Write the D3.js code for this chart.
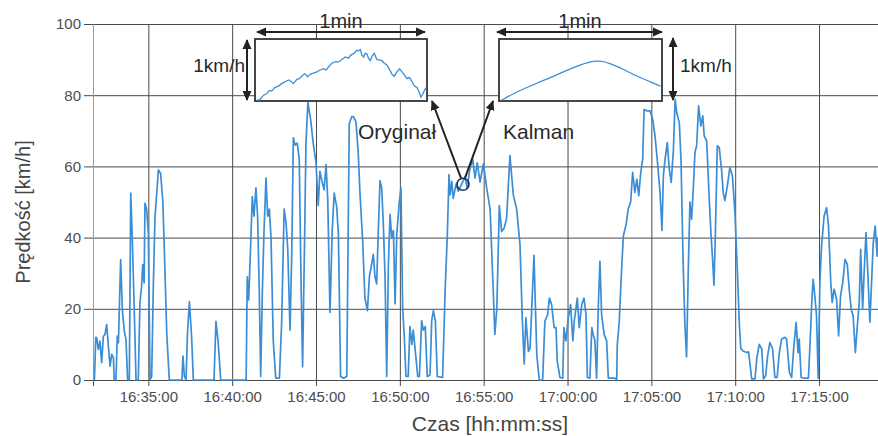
<!DOCTYPE html>
<html>
<head>
<meta charset="utf-8">
<script src="https://cdnjs.cloudflare.com/ajax/libs/d3/7.8.5/d3.min.js"></script>
<style>
body { margin: 0; background: #fff; }
svg { font-family: "Liberation Sans", Arial, sans-serif; }
</style>
</head>
<body>
<svg id="chart" width="878" height="436"></svg>
<script>
// speed log
var timeLabels = [
	"16:31:47","16:31:52","16:31:55","16:32:01","16:32:07","16:32:13","16:32:19","16:32:25","16:32:31","16:32:37",
	"16:32:43","16:32:49","16:32:55","16:32:58","16:33:04","16:33:09","16:33:13","16:33:21","16:33:27","16:33:34",
	"16:33:40","16:33:46","16:33:52","16:33:57","16:34:02","16:34:09","16:34:16","16:34:24","16:34:30","16:34:36",
	"16:34:40","16:34:45","16:34:48","16:34:54","16:35:00","16:35:06","16:35:12","16:35:18","16:35:24","16:35:36",
	"16:35:44","16:35:52","16:35:56","16:36:06","16:36:15","16:37:00","16:37:04","16:37:09","16:37:15","16:37:20",
	"16:37:27","16:37:35","16:37:41","16:38:55","16:39:02","16:39:10","16:39:19","16:40:50","16:40:54","16:40:59",
	"16:41:06","16:41:12","16:41:18","16:41:25","16:41:31","16:41:37","16:41:42","16:41:48","16:41:54","16:42:01",
	"16:42:07","16:42:13","16:42:19","16:42:27","16:42:36","16:42:49","16:42:57","16:43:06","16:43:13","16:43:19",
	"16:43:27","16:43:33","16:43:39","16:43:45","16:43:53","16:44:00","16:44:07","16:44:12","16:44:20","16:44:24",
	"16:44:31","16:44:41","16:44:50","16:45:00","16:45:08","16:45:14","16:45:21","16:45:29","16:45:36","16:45:42",
	"16:45:50","16:45:58","16:46:05","16:46:14","16:46:20","16:46:28","16:46:38","16:46:50","16:46:59","16:47:08",
	"16:47:14","16:47:23","16:47:31","16:47:37","16:47:47","16:47:55","16:48:04","16:48:11","16:48:19","16:48:25",
	"16:48:31","16:48:37","16:48:43","16:48:49","16:48:55","16:49:01","16:49:07","16:49:13","16:49:19","16:49:25",
	"16:49:31","16:49:37","16:49:43","16:49:49","16:49:58","16:50:04","16:50:10","16:50:16","16:50:22","16:50:30",
	"16:50:36","16:50:43","16:50:48","16:50:55","16:51:04","16:51:10","16:51:18","16:51:24","16:51:31","16:51:38",
	"16:51:48","16:51:54","16:52:00","16:52:07","16:52:14","16:52:33","16:52:42","16:52:50","16:52:56","16:53:00",
	"16:53:06","16:53:11","16:53:21","16:53:29","16:53:41","16:53:53","16:54:01","16:54:11","16:54:21","16:54:29",
	"16:54:37","16:54:47","16:54:59","16:55:11","16:55:23","16:55:32","16:55:40","16:55:47","16:55:56","16:56:04",
	"16:56:13","16:56:22","16:56:34","16:56:46","16:56:58","16:57:10","16:57:18","16:57:25","16:57:31","16:57:40",
	"16:57:46","16:58:00","16:58:10","16:58:19","16:58:31","16:58:39","16:58:49","16:58:55","16:59:03","16:59:12",
	"16:59:19","16:59:23","16:59:33","16:59:43","16:59:47","16:59:54","17:00:03","17:00:11","17:00:19","17:00:24",
	"17:00:35","17:00:42","17:00:51","17:00:59","17:01:06","17:01:11","17:01:20","17:01:27","17:01:32","17:01:38",
	"17:01:44","17:01:50","17:01:56","17:02:02","17:02:11","17:02:20","17:02:26","17:02:50","17:02:56","17:02:58",
	"17:03:05","17:03:14","17:03:20","17:03:29","17:03:37","17:03:46","17:03:53","17:04:01","17:04:08","17:04:15",
	"17:04:22","17:04:29","17:04:34","17:04:43","17:04:55","17:05:05","17:05:13","17:05:21","17:05:31","17:05:38",
	"17:05:43","17:05:49","17:05:57","17:06:04","17:06:11","17:06:19","17:06:25","17:06:31","17:06:40","17:06:46",
	"17:06:54","17:07:00","17:07:06","17:07:12","17:07:18","17:07:24","17:07:30","17:07:36","17:07:42","17:07:49",
	"17:07:57","17:08:04","17:08:09","17:08:18","17:08:26","17:08:33","17:08:39","17:08:44","17:08:49","17:08:56",
	"17:09:03","17:09:12","17:09:17","17:09:23","17:09:32","17:09:41","17:09:50","17:09:59","17:10:07","17:10:15",
	"17:10:20","17:10:27","17:10:41","17:10:48","17:10:59","17:11:11","17:11:17","17:11:26","17:11:35","17:11:41",
	"17:11:49","17:11:56","17:12:04","17:12:14","17:12:22","17:12:30","17:12:38","17:12:46","17:12:58","17:13:04",
	"17:13:14","17:13:22","17:13:30","17:13:38","17:13:45","17:13:49","17:13:56","17:14:06","17:14:22","17:14:28",
	"17:14:34","17:14:39","17:14:45","17:14:51","17:14:57","17:15:03","17:15:09","17:15:18","17:15:27","17:15:34",
	"17:15:42","17:15:47","17:15:54","17:16:03","17:16:10","17:16:17","17:16:25","17:16:33","17:16:41","17:16:48",
	"17:16:55","17:17:02","17:17:10","17:17:17","17:17:24","17:17:29","17:17:36","17:17:43","17:17:48","17:17:55",
	"17:18:02","17:18:08","17:18:14","17:18:21","17:18:28","17:18:31"
];
var speedValues = [
	0,12,11.9,8.6,10.9,4.9,12.3,12.8,15.6,9.5,
	3.9,7.2,6.3,0,0,12.3,10.5,33.8,19.8,13.7,
	11.4,0,0,52.5,41.3,21.7,0,0,21.7,26.4,
	32.4,27.3,49.7,47.9,41.3,0,1,27,46,59,
	58,50,40,13,0,0,6.7,1,0,13,
	22,12,0,0,16.5,10.5,0,0,29,22.5,
	37.5,51.5,46,54,46,25,1,25,42,56.7,
	46,48,40,11,0.5,0.5,16,48,44,36.5,
	14,34.7,68,66,66.5,62,25,3.7,44,66.5,
	78,73,66.5,61,49,58.6,56,53.4,60.5,50.6,
	19,42,52.5,48.7,41,1,0.5,1,72,74,
	74,72.5,64,53,39,23,19.5,29,32.5,35.3,
	29,27,42,56,54,43.7,29,1,32.5,46.5,
	40,42,21.4,41,50,54,20.5,12,1,1,
	15,10,14,8.4,1,1,16.7,14,15,1,
	1.4,16.7,19.5,16.7,1,0.7,25,41,57.7,52,
	55.8,51,55,53,55,57,54,59.5,62,56.7,
	61,55.6,60.7,53.8,48,29.6,12.8,20,49,41.7,
	42.6,45.4,63,52,48,38,17.5,4.5,17.5,8,
	9,35,7,0,0,16.5,18.4,23,21.2,14.7,
	14.7,5.4,0.7,0.5,14.7,11,17.5,21.2,11,16.5,
	23,14.7,21.2,23,18.4,0.7,0.5,14.7,12.8,11,
	0.5,20.3,33.3,18.4,12.8,11,0.5,0.5,0,9.8,
	16.3,32,40.6,43.4,48,50,58.3,52.7,56.4,51.8,
	58.3,62,76,75.6,75.6,73.2,68.6,62,52.7,42,
	57.4,62,66.7,59.2,55.5,64.8,78.8,75,72.3,62,
	32,15.4,6.5,30.3,50,45.2,53.6,63.9,65.8,77,
	71.4,74.2,68.6,67.2,52.7,41.5,34,26.6,40.6,65.8,
	65.3,58.3,52.7,50.4,54.6,59.7,57.4,47.1,32.2,15.4,
	8.9,8.2,7.7,7.9,0.3,0.3,5.9,10,8.7,0.3,
	1.2,6.8,10.5,8.7,0.7,0.7,7.7,11.5,12,11.5,
	2.1,0.7,9.6,16.2,7.7,11.5,0.7,0.5,0.5,10.5,
	21.8,28.3,23.6,18,0.5,27.4,37.6,46,48.4,43.2,
	27.4,21.8,25.5,22.7,12.4,23.6,27.4,33.9,32.5,25.5,
	19.9,18,7.7,15.2,21.8,36.7,19.9,33,41.4,29.2,
	16.2,27.4,38.6,43.2,34.8,40
];

var xTickLabels = ["16:35:00","16:40:00","16:45:00","16:50:00","16:55:00","17:00:00","17:05:00","17:10:00","17:15:00"];
var yTickValues = [0, 20, 40, 60, 80, 100];
var timeStart = "16:31:42";
var timeEnd = "17:18:31";

// one minute zoom around the marked point, km/h above the window minimum
var origSeconds = [0.6,1.7,2.9,4.1,5.0,5.8,7.0,8.2,9.3,10.5,11.7,12.5,13.4,14.6,15.5,16.7,17.5,18.3,19.2,20.4,
	21.6,22.7,23.9,24.8,25.7,26.8,28.0,29.1,30.3,31.5,32.6,33.4,34.6,35.5,36.1,36.7,37.3,37.9,38.4,39.0,
	39.6,40.2,40.8,41.6,42.5,43.5,44.3,45.1,46.0,46.9,47.8,48.6,49.5,50.4,51.3,52.1,53.0,53.9,54.8,55.6,
	56.5,57.2,57.9,58.6,59.2,59.8];
var origOffset = [0.01,0.02,0.09,0.12,0.17,0.16,0.22,0.24,0.28,0.31,0.34,0.32,0.28,0.35,0.36,0.42,0.44,0.39,0.43,0.45,
	0.47,0.50,0.52,0.50,0.55,0.61,0.63,0.63,0.67,0.71,0.69,0.74,0.77,0.82,0.81,0.83,0.74,0.71,0.77,0.76,
	0.69,0.65,0.72,0.77,0.67,0.66,0.65,0.61,0.58,0.51,0.43,0.40,0.47,0.52,0.47,0.42,0.36,0.38,0.31,0.24,
	0.22,0.15,0.06,0.12,0.18,0.22];
var kalmanSeconds = [0.9,5.2,11.3,17.5,23.7,28.6,33.5,37.2,40.9,45.8,50.8,55.7,59.4];
var kalmanOffset = [0.01,0.12,0.24,0.35,0.47,0.56,0.64,0.65,0.61,0.51,0.40,0.31,0.24];
var markTime = "16:53:46";
var markSpeed = 55;

var lineColor = "#3b8dd6";
var inkColor = "#222";

function drawChart() {
	var svg = d3.select("#chart");
	var parseTime = d3.timeParse("%H:%M:%S");

	var left = 93, right = 878, top = 24, bottom = 380;

	var x = d3.scaleTime()
		.domain([parseTime(timeStart), parseTime(timeEnd)])
		.range([left, right]);
	var y = d3.scaleLinear()
		.domain([0, 100])
		.range([bottom, top]);

	var points = timeLabels.map(function(t, i) {
		return { t: parseTime(t), v: speedValues[i] };
	});

	var defs = svg.append("defs");
	defs.append("marker")
		.attr("id", "head")
		.attr("viewBox", "0 0 10 10")
		.attr("refX", 9)
		.attr("refY", 5)
		.attr("markerUnits", "userSpaceOnUse")
		.attr("markerWidth", 10)
		.attr("markerHeight", 10)
		.attr("orient", "auto-start-reverse")
		.append("path")
		.attr("d", "M0,0.5 L10,5 L0,9.5 Z")
		.style("fill", inkColor);

	// grid
	var xTicks = xTickLabels.map(parseTime);
	svg.append("g")
		.attr("class", "grid")
		.attr("transform", "translate(0," + bottom + ")")
		.call(d3.axisBottom(x).tickValues(xTicks).tickSize(-(bottom - top)).tickFormat(""))
		.call(function(g) { g.select(".domain").remove(); });
	svg.append("g")
		.attr("class", "grid")
		.attr("transform", "translate(" + left + ",0)")
		.call(d3.axisLeft(y).tickValues(yTickValues).tickSize(-(right - left)).tickFormat(""))
		.call(function(g) { g.select(".domain").remove(); });
	svg.selectAll(".grid line")
		.style("stroke", "#4a4a4a")
		.style("stroke-width", 1);

	// axes
	var xAxis = svg.append("g")
		.attr("transform", "translate(0," + bottom + ")")
		.call(d3.axisBottom(x).tickValues(xTicks).tickSize(6).tickPadding(5)
			.tickFormat(d3.timeFormat("%H:%M:%S")));
	xAxis.select(".domain").style("stroke", "#4a4a4a");
	xAxis.selectAll("line").style("stroke", "#4a4a4a");
	xAxis.selectAll("text")
		.style("font-size", "15px")
		.style("fill", "#4d4d4d");

	var yAxis = svg.append("g")
		.attr("transform", "translate(" + left + ",0)")
		.call(d3.axisLeft(y).tickValues(yTickValues).tickSize(9).tickPadding(3));
	yAxis.select(".domain").style("stroke", "#999");
	yAxis.selectAll("line").style("stroke", "#4a4a4a");
	yAxis.selectAll("text")
		.style("font-size", "15px")
		.style("fill", "#4d4d4d");

	svg.append("text")
		.attr("x", 490)
		.attr("y", 431)
		.attr("text-anchor", "middle")
		.style("font-size", "21px")
		.style("fill", "#444")
		.text("Czas [hh:mm:ss]");
	svg.append("text")
		.attr("transform", "translate(30,212) rotate(-90)")
		.attr("text-anchor", "middle")
		.style("font-size", "20px")
		.style("fill", "#444")
		.text("Prędkość [km/h]");

	// data
	var line = d3.line()
		.x(function(d) { return x(d.t); })
		.y(function(d) { return y(d.v); });
	svg.append("path")
		.datum(points)
		.attr("d", line)
		.style("fill", "none")
		.style("stroke", lineColor)
		.style("stroke-width", 1.7)
		.style("stroke-linejoin", "round");

	// zoom windows
	drawInset(svg, { x: 255, y: 39, w: 172, h: 62 }, origSeconds, origOffset, d3.curveLinear);
	drawInset(svg, { x: 499, y: 39, w: 163, h: 62 }, kalmanSeconds, kalmanOffset, d3.curveBasis);

	arrow(svg, 257, 32, 425, 32, true);
	arrow(svg, 497, 32, 662, 32, true);
	arrow(svg, 247, 40, 247, 100, true);
	arrow(svg, 673, 38, 673, 100, true);

	label(svg, 341, 28, "1min", "middle", 20);
	label(svg, 580, 28, "1min", "middle", 20);
	label(svg, 245, 72, "1km/h", "end", 19);
	label(svg, 680, 72, "1km/h", "start", 19);
	label(svg, 358, 139, "Oryginał", "start", 21);
	label(svg, 503, 139, "Kalman", "start", 21);

	var mx = x(parseTime(markTime)), my = y(markSpeed);
	arrow(svg, mx - 2, my - 6, 432, 101, false);
	arrow(svg, mx + 2, my - 6, 493, 101, false);
	svg.append("circle")
		.attr("cx", mx)
		.attr("cy", my)
		.attr("r", 6)
		.style("fill", "none")
		.style("stroke", "#1e2f5e")
		.style("stroke-width", 1.6);
}

function drawInset(svg, box, secs, offs, curve) {
	var ix = d3.scaleLinear().domain([0, 60]).range([box.x, box.x + box.w]);
	var iy = d3.scaleLinear().domain([0, 1]).range([box.y + box.h, box.y]);

	svg.append("rect")
		.attr("x", box.x)
		.attr("y", box.y)
		.attr("width", box.w)
		.attr("height", box.h)
		.style("fill", "#fff")
		.style("stroke", "#333")
		.style("stroke-width", 1.8);

	var pts = secs.map(function(s, i) { return [s, offs[i]]; });
	svg.append("path")
		.datum(pts)
		.attr("d", d3.line()
			.x(function(d) { return ix(d[0]); })
			.y(function(d) { return iy(d[1]); })
			.curve(curve))
		.style("fill", "none")
		.style("stroke", lineColor)
		.style("stroke-width", 1.3);
}

function arrow(svg, x1, y1, x2, y2, both) {
	var l = svg.append("line")
		.attr("x1", x1).attr("y1", y1)
		.attr("x2", x2).attr("y2", y2)
		.style("stroke", inkColor)
		.style("stroke-width", 2)
		.attr("marker-end", "url(#head)");
	if (both) l.attr("marker-start", "url(#head)");
}

function label(svg, x, y, txt, anchor, size) {
	svg.append("text")
		.attr("x", x)
		.attr("y", y)
		.attr("text-anchor", anchor)
		.style("font-size", size + "px")
		.style("fill", "#2a2a2a")
		.text(txt);
}

drawChart();
</script>
</body>
</html>
